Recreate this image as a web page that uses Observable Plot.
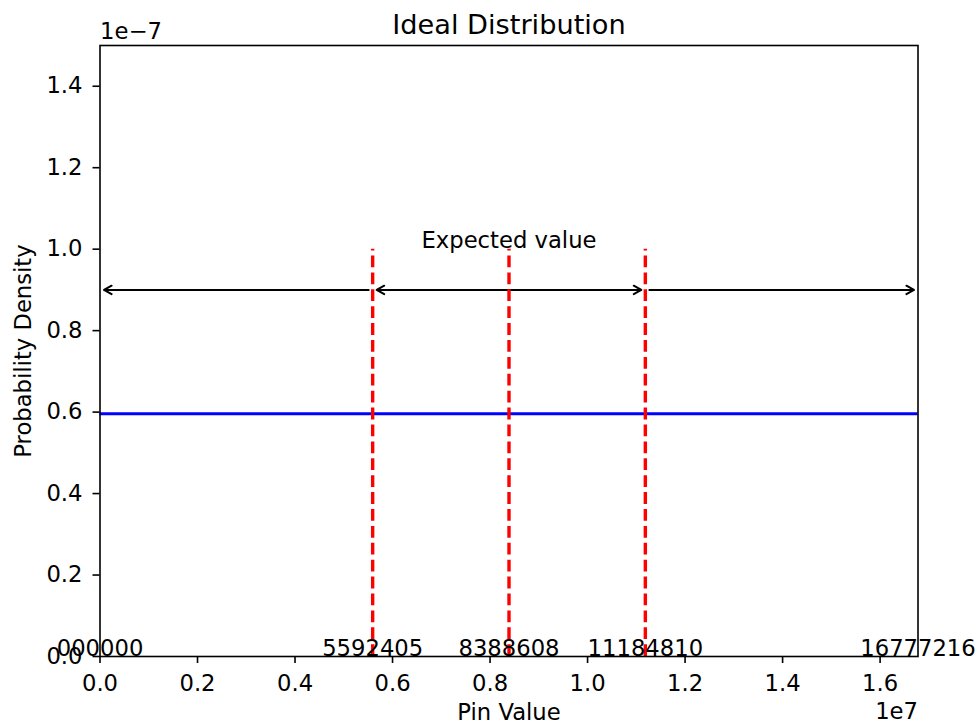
<!DOCTYPE html>
<html><head><meta charset="utf-8">
<script src="https://cdn.jsdelivr.net/npm/d3@7"></script>
<script src="https://cdn.jsdelivr.net/npm/@observablehq/plot@0.6"></script>
<style>body{margin:0;background:#fff} svg{display:block}</style>
</head><body><div id="chart"></div>
<script>
const title = "Ideal Distribution";
const xLabel = "Pin Value";
const yLabel = "Probability Density";
const xOffsetText = "1e7";
const yOffsetText = "1e\u22127";
const xDomain = [0, 16777216];
const yDomain = [0, 1.5e-7];
const xTicks = [0, 0.2e7, 0.4e7, 0.6e7, 0.8e7, 1.0e7, 1.2e7, 1.4e7, 1.6e7];
const yTicks = [0, 0.2e-7, 0.4e-7, 0.6e-7, 0.8e-7, 1.0e-7, 1.2e-7, 1.4e-7];
const idealDensity = 5.96e-8;
const markerValues = [5592405, 8388608, 11184810];
const markerTop = 1.0e-7;
const labelValues = [0, 5592405, 8388608, 11184810, 16777216];
const labelTexts = ["000000", "5592405", "8388608", "11184810", "16777216"];
const arrowY = 0.9e-7;
const outerArrows = [{from: 5592405, to: 0}, {from: 11184810, to: 16777216}];
const innerArrows = [{from: 8388608, to: 5592405}, {from: 8388608, to: 11184810}];
const annotationText = "Expected value";
const annotationX = 8388608;

const labels = labelValues.map((v, i) => ({x: v, text: labelTexts[i]}));
const font = "DejaVu Sans";
const fs = 22.7;
const titleFs = 27.2;

const chart = Plot.plot({
  width: 979, height: 724,
  marginLeft: 99.5, marginRight: 61.5, marginTop: 45, marginBottom: 68,
  style: {fontFamily: font, fontSize: fs + "px", color: "#000", background: "#fff", overflow: "visible"},
  x: {domain: xDomain},
  y: {domain: yDomain},
  marks: [
    Plot.ruleY([idealDensity], {x1: xDomain[0], x2: xDomain[1], stroke: "#0000ff", strokeWidth: 3.2}),
    Plot.arrow(outerArrows, {x1: "from", x2: "to", y1: arrowY, y2: arrowY, stroke: "#000", strokeWidth: 2, headLength: 6.5, headAngle: 58, insetStart: 4, insetEnd: 4}),
    Plot.arrow(innerArrows, {x1: "from", x2: "to", y1: arrowY, y2: arrowY, stroke: "#000", strokeWidth: 2, headLength: 6.5, headAngle: 58, insetStart: 0, insetEnd: 4}),
    Plot.ruleX(markerValues, {x: d => d, y1: 0, y2: markerTop, stroke: "#ff0000", strokeWidth: 3.4, strokeDasharray: "11.8,5.1"}),
    Plot.text(labels, {x: "x", y: 0, text: "text", textAnchor: "middle", lineAnchor: "middle", dy: -7.8, fill: "#000", fontSize: fs}),
    Plot.text([annotationText], {x: annotationX, y: markerTop, text: d => d, textAnchor: "middle", lineAnchor: "middle", dy: -8.0, fill: "#000", fontSize: fs}),
    Plot.axisX({ticks: xTicks, tickFormat: d => (d / 1e7).toFixed(1), tickSize: 7, tickPadding: 11, label: null, strokeWidth: 1.6, fontSize: fs}),
    Plot.axisY({ticks: yTicks, tickFormat: d => (d / 1e-7).toFixed(1), tickSize: 7, tickPadding: 10.5, label: null, strokeWidth: 1.6, fontSize: fs}),
    Plot.frame({stroke: "#000", strokeWidth: 1.6}),
    Plot.text([title], {frameAnchor: "top", text: d => d, textAnchor: "middle", lineAnchor: "middle", dy: -20.7, fontSize: titleFs, fill: "#000"}),
    Plot.text([yOffsetText], {frameAnchor: "top-left", text: d => d, textAnchor: "start", lineAnchor: "middle", dy: -13.3, fontSize: fs, fill: "#000"}),
    Plot.text([xLabel], {frameAnchor: "bottom", text: d => d, textAnchor: "middle", lineAnchor: "middle", dy: 56.7, fontSize: fs, fill: "#000"}),
    Plot.text([xOffsetText], {frameAnchor: "bottom-right", text: d => d, textAnchor: "end", lineAnchor: "middle", dy: 55.7, fontSize: fs, fill: "#000"}),
    Plot.text([yLabel], {frameAnchor: "left", text: d => d, rotate: -90, textAnchor: "middle", lineAnchor: "middle", dx: -75.8, fontSize: fs, fill: "#000"})
  ]
});
document.getElementById("chart").appendChild(chart);
</script>
</body></html>
